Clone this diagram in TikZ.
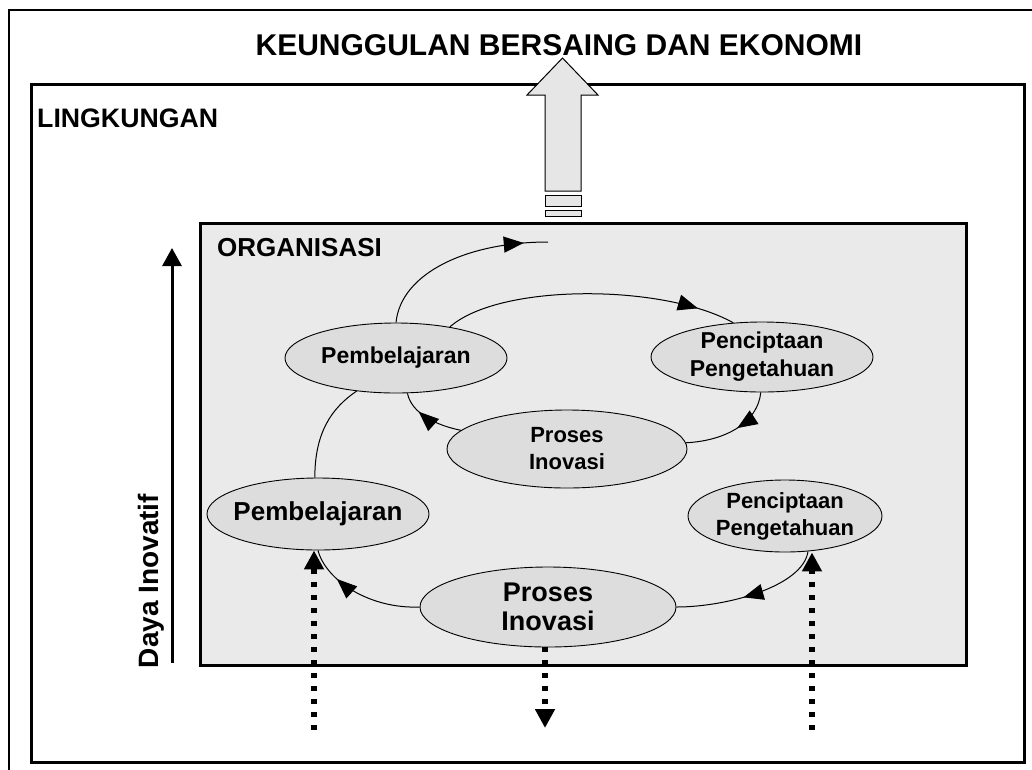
\documentclass[tikz,border=0pt]{standalone}
\usepackage{fontspec}
\setmainfont{Liberation Sans}
\usetikzlibrary{arrows.meta,decorations.markings,shapes.geometric}
\definecolor{orgfill}{RGB}{234,234,234}
\definecolor{ellfill}{RGB}{221,221,221}
\definecolor{blockfill}{RGB}{230,230,230}
\tikzset{
  bubble/.style={ellipse, draw=black, line width=0.9pt, fill=ellfill, inner sep=-40pt, align=center},
  flow/.style={line width=1pt},
  midtip/.style={postaction={decorate}, decoration={markings,
      mark=at position #1 with {\arrow{Triangle[length=20pt,width=16pt]}}}},
  dotarrow/.style={line width=5.5pt, dash pattern=on 5pt off 8pt,
      -{Triangle[length=19pt,width=19pt]}},
  boxframe/.style={draw=black, line width=3pt},
  label/.style={inner sep=0pt, font=\bfseries},
}
\newcommand{\fs}[1]{\fontsize{#1}{#1}\selectfont}
\begin{document}
\begin{tikzpicture}[x=1pt,y=-1pt]
\useasboundingbox (0,0) rectangle (1032,769);
\fill[white] (0,0) rectangle (1032,769);
% sheet border
\draw[line width=1.2pt] (9,800) -- (9,10) -- (1040,10);
% environment box
\draw[boxframe, fill=white] (31.5,84) rectangle (1024,762);
% organisation box
\draw[boxframe, fill=orgfill] (200,223) rectangle (966,665);

% titles
\node[label, anchor=base, font=\bfseries\fs{30}] (title) at (559,55) {KEUNGGULAN BERSAING DAN EKONOMI};
\node[label, anchor=base west, font=\bfseries\fs{26.7}] (env) at (37,127) {LINGKUNGAN};
\node[label, anchor=base west, font=\bfseries\fs{26}] (org) at (217,256) {ORGANISASI};

% block arrow leaving the organisation
\draw[line width=1pt, fill=blockfill] (545,191) -- (545,95) -- (527,95) -- (562.5,58)
  -- (598,95) -- (581,95) -- (581,191) -- cycle;
\draw[line width=1pt, fill=blockfill] (545,195) rectangle (581,206);
\draw[line width=1pt, fill=blockfill] (545,210) rectangle (581,216);

% innovative capacity axis
\coordinate (axbot) at (172,663);
\coordinate (axtop) at (172,248);
\draw[line width=3pt, -{Triangle[length=18pt,width=19pt]}] (axbot) -- (axtop);
\node[label, rotate=90, anchor=base, font=\bfseries\fs{28}] (daya) at (158,581) {Daya Inovatif};

% upper cycle
\node[bubble, minimum width=222pt, minimum height=70pt, font=\bfseries\fs{23}] (pbA) at (396,358) {Pembelajaran};
\node[bubble, minimum width=222pt, minimum height=70pt, font=\bfseries\fontsize{23}{28}\selectfont] (pcA) at (762,357) {Penciptaan\\Pengetahuan};
\node[bubble, minimum width=240pt, minimum height=78pt, font=\bfseries\fontsize{22}{27}\selectfont] (piA) at (567,449) {Proses\\Inovasi};

% lower cycle
\node[bubble, minimum width=222pt, minimum height=72pt, font=\bfseries\fs{26}] (pbB) at (318,514) {Pembelajaran};
\node[bubble, minimum width=194pt, minimum height=72pt, font=\bfseries\fontsize{22}{27}\selectfont] (pcB) at (785,516) {Penciptaan\\Pengetahuan};
\node[bubble, minimum width=256pt, minimum height=80pt, font=\bfseries\fontsize{27}{29}\selectfont] (piB) at (548,607) {Proses\\Inovasi};

% lower cycle connectors
\draw[flow, midtip=0.72] (piB.west) .. controls +(-50,2) and +(8,30) .. (pbB.south);
\draw[flow, midtip=0.55] (pcB.303) .. controls +(-5,35) and +(50,0) .. (piB.east);
\draw[flow] (pbB.95) .. controls +(0,-45) and +(-25,17) .. (pbA.220);

% upper cycle connectors
\coordinate (loose) at (548,242);
\draw[flow, midtip=0.87] (pbA.north) .. controls +(5,-50) and +(-80,0) .. (loose);
\draw[flow, midtip=0.87] (pbA.30) .. controls +(50,-44) and +(-70,-39) .. (pcA.130);
\draw[flow, midtip=0.45] (pcA.268) .. controls +(-3,30) and +(40,-2) .. (piA.3);
\draw[flow, midtip=0.68] (piA.170) .. controls +(-25,-5) and +(4,20) .. (pbA.288);

% inputs and output
\coordinate (inL) at (314,730);
\coordinate (inR) at (812,730);
\coordinate (outM) at (545,728);
\draw[dotarrow] (inL) -- (pbB.south -| inL);
\draw[dotarrow] (inR) -- (pcB.south -| inR);
\draw[dotarrow] (piB.south -| outM) -- (outM);
\end{tikzpicture}
\end{document}
